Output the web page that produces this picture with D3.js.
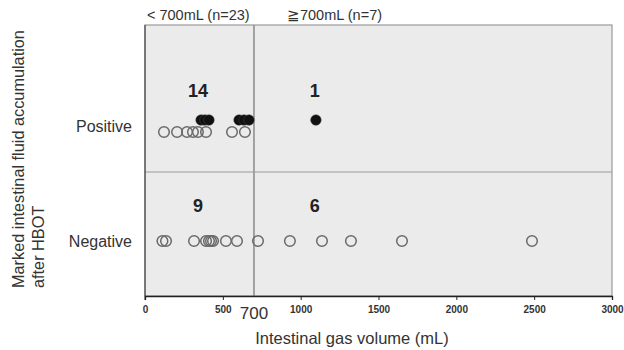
<!DOCTYPE html>
<html>
<head>
<meta charset="utf-8">
<script src="https://cdn.jsdelivr.net/npm/d3@7"></script>
<style>
  body { margin: 0; background: #fff; }
  text { font-family: "Liberation Sans", Arial, sans-serif; }
</style>
</head>
<body>
<div id="chart"></div>
<script>
// Data (gas volume in mL)
var groups = ["Positive", "Negative"];
var posFilled = [360, 385, 411, 604, 636, 668, 1098];
var posOpen = [122, 206, 270, 308, 340, 392, 559, 642];
var negOpen = [112, 135, 315, 392, 411, 424, 437, 520, 591, 726, 931, 1137, 1323, 1651, 2486];
var counts = [
    {group: "Positive", side: "low", n: 14},
    {group: "Positive", side: "high", n: 1},
    {group: "Negative", side: "low", n: 9},
    {group: "Negative", side: "high", n: 6}
];
var xTicks = [0, 500, 1000, 1500, 2000, 2500, 3000];
var cutoff = 700;

var width = 624, height = 350;
var margin = {top: 25, right: 12, bottom: 54, left: 145};

var svg = d3.select("#chart").append("svg")
    .attr("width", width)
    .attr("height", height);

var x = d3.scaleLinear()
    .domain([0, 3000])
    .range([margin.left, width - margin.right]);

var y = d3.scalePoint()
    .domain(groups)
    .range([126, 241]);

var plotTop = margin.top, plotBottom = height - margin.bottom;
var splitY = 172;

// Background box
svg.append("rect")
    .attr("x", x(0)).attr("y", plotTop)
    .attr("width", x(3000) - x(0)).attr("height", plotBottom - plotTop)
    .attr("fill", "#ebebeb")
    .attr("stroke", "#9a9a9a")
    .attr("stroke-width", 1.2);

// cutoff line and row divider
svg.append("line")
    .attr("x1", x(cutoff)).attr("x2", x(cutoff))
    .attr("y1", plotTop).attr("y2", plotBottom)
    .attr("stroke", "#8a8a8a").attr("stroke-width", 1.5);
svg.append("line")
    .attr("x1", x(0)).attr("x2", x(3000))
    .attr("y1", splitY).attr("y2", splitY)
    .attr("stroke", "#9a9a9a").attr("stroke-width", 1.2);

// Left axis line
svg.append("line")
    .attr("x1", x(0)).attr("x2", x(0))
    .attr("y1", plotTop).attr("y2", plotBottom + 4)
    .attr("stroke", "#333").attr("stroke-width", 1);

// X axis
var xAxis = svg.append("g")
    .attr("transform", "translate(0," + plotBottom + ")")
    .call(d3.axisBottom(x).tickValues(xTicks).tickFormat(d3.format("d")).tickSize(4).tickPadding(6));
xAxis.select(".domain").attr("stroke", "#222").attr("stroke-width", 1.3);
xAxis.selectAll(".tick line").attr("stroke", "#222");
xAxis.selectAll(".tick text")
    .attr("font-size", 10).attr("font-weight", "bold").attr("fill", "#333")
    .attr("font-family", "'Liberation Sans', Arial, sans-serif");

svg.append("text")
    .attr("x", x(cutoff)).attr("y", plotBottom + 23)
    .attr("text-anchor", "middle")
    .attr("font-size", 17).attr("fill", "#333")
    .text(cutoff);

svg.append("text")
    .attr("x", 352).attr("y", 344)
    .attr("text-anchor", "middle")
    .attr("font-size", 16.5).attr("fill", "#333")
    .text("Intestinal gas volume (mL)");

// Y labels
svg.selectAll(".ylab").data(groups).enter().append("text")
    .attr("class", "ylab")
    .attr("x", 132).attr("y", function(d) { return y(d) + 6; })
    .attr("text-anchor", "end")
    .attr("font-size", 16).attr("fill", "#333")
    .text(function(d) { return d; });

svg.append("text")
    .attr("transform", "translate(24,288) rotate(-90)")
    .attr("font-size", 16.3).attr("fill", "#333")
    .text("Marked intestinal fluid accumulation");
svg.append("text")
    .attr("transform", "translate(44,288) rotate(-90)")
    .attr("font-size", 16.3).attr("fill", "#333")
    .text("after HBOT");

// Top headers
svg.append("text")
    .attr("x", x(0) + 2).attr("y", 20)
    .attr("font-size", 14.5).attr("fill", "#333")
    .text("< 700mL (n=23)");
svg.append("text")
    .attr("x", x(cutoff) + 33).attr("y", 20)
    .attr("font-size", 14.5).attr("fill", "#333")
    .text("\u2267700mL (n=7)");

// Counts
svg.selectAll(".count").data(counts).enter().append("text")
    .attr("class", "count")
    .attr("x", function(d) { return d.side == "low" ? x(340) : x(1090); })
    .attr("y", function(d) { return y(d.group) - 29; })
    .attr("text-anchor", "middle")
    .attr("font-size", 18).attr("font-weight", "bold").attr("fill", "#222")
    .text(function(d) { return d.n; });

var r = 5.3;

// Open circles
svg.selectAll(".popen").data(posOpen).enter().append("circle")
    .attr("class", "popen")
    .attr("cx", function(d) { return x(d); })
    .attr("cy", y("Positive") + 6)
    .attr("r", r)
    .attr("fill", "none").attr("stroke", "#6a6a6a").attr("stroke-width", 1.5);

svg.selectAll(".nopen").data(negOpen).enter().append("circle")
    .attr("class", "nopen")
    .attr("cx", function(d) { return x(d); })
    .attr("cy", y("Negative"))
    .attr("r", r)
    .attr("fill", "none").attr("stroke", "#6a6a6a").attr("stroke-width", 1.5);

// Filled circles
svg.selectAll(".pfill").data(posFilled).enter().append("circle")
    .attr("class", "pfill")
    .attr("cx", function(d) { return x(d); })
    .attr("cy", y("Positive") - 6)
    .attr("r", r)
    .attr("fill", "#111").attr("stroke", "#444").attr("stroke-width", 0.5);
</script>
</body>
</html>
